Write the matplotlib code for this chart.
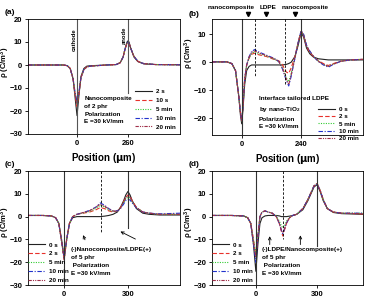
import matplotlib
matplotlib.use('Agg')
import matplotlib.pyplot as plt

plt.rcParams['font.family'] = ['Liberation Sans', 'DejaVu Sans']
plt.rcParams['font.weight'] = 'bold'
plt.rcParams['mathtext.default'] = 'regular'

# ---- data ----
# panel (a)
xa = [-250, -150, -100, -70, -50, -35, -20, -10, 0, 10, 20, 35, 50, 70, 100, 150,
      200, 220, 235, 245, 255, 260, 265, 275, 290, 310, 340, 400, 525]
ya_2s = [0, 0, 0, 0, -0.3, -1.5, -6, -14, -22, -13, -5, -1.5, -0.5, -0.3, -0.2, 0,
         0.2, 1, 3.5, 7, 10, 10.5, 10, 7, 3.5, 1.5, 0.5, 0.2, 0.1]
ya_10s = [0, 0, 0, 0, -0.3, -1.5, -6, -13, -18, -12.5, -5.5, -2, -0.8, -0.5, -0.3, 0,
          0.2, 1, 3.5, 7, 9.5, 10, 9.5, 7, 3.8, 1.6, 0.6, 0.2, 0.1]
ya_5m = [0, 0, 0, 0, -0.3, -1.5, -6, -12.5, -17, -12, -5.5, -2, -0.8, -0.5, -0.3, 0,
         0.2, 1, 3.5, 7.2, 9.8, 10.2, 9.6, 7, 3.8, 1.6, 0.6, 0.2, 0.1]
ya_10m = [0, 0, 0, 0, -0.3, -1.5, -6, -12, -16, -11.5, -5.5, -2, -0.8, -0.5, -0.3, 0,
          0.2, 1, 3.5, 7, 9.6, 10, 9.5, 7, 3.8, 1.6, 0.6, 0.2, 0.1]
ya_20m = [0, 0, 0, 0, -0.3, -1.5, -6, -12.5, -17, -12, -5.5, -2, -0.8, -0.5, -0.3, 0,
          0.2, 1, 3.5, 7, 9.5, 10, 9.5, 7, 3.8, 1.6, 0.6, 0.2, 0.1]

# panel (b)
xb = [-120, -60, -40, -25, -12, -5, 0, 5, 12, 20, 30, 40, 52, 70, 100, 130, 150, 165,
      180, 190, 200, 215, 228, 240, 250, 262, 275, 290, 310, 330, 350, 370, 400, 440, 490]
yb_0s = [0.1, 0.1, -0.5, -3, -12, -19, -22, -17, -8, -3, -1.5, -1, -1, -1, -1, -1, -1, -1,
         -0.8, -0.5, 0, 2, 6, 10.5, 9, 5, 3, 1.8, 1.2, 1, 0.8, 0.8, 0.8, 0.8, 0.8]
yb_2s = [0.1, 0.1, -0.5, -3, -12, -18, -21, -16, -6, -1, 1.5, 2.8, 3.2, 2.6, 2, 1, 0.5, -1,
         -3.5, -4, -2, 2, 7, 11, 9.5, 5.5, 3.5, 2, 0.5, -0.5, -1.2, -0.5, 0.3, 0.8, 1]
yb_5m = [0.1, 0.1, -0.5, -3, -12, -18, -21, -16, -6, -1, 1.5, 3, 3.8, 3, 2.2, 1.2, 0.2, -2,
         -5.5, -7, -4, 1.5, 7, 11, 9.8, 5.8, 3.8, 2, 0.3, -0.8, -1.5, -0.7, 0.3, 0.8, 1]
yb_10m = [0.1, 0.1, -0.5, -3, -12, -18, -21, -16, -6, -1, 2, 3.8, 4.5, 3.6, 2.5, 1.4, 0.2, -2.5,
          -6.5, -8.5, -5, 1.5, 7, 11.2, 10, 6, 4, 2, 0.2, -1, -1.8, -0.8, 0.3, 0.8, 1]
yb_20m = [0.1, 0.1, -0.5, -3, -12, -18, -21, -16, -6, -1, 1.8, 3.5, 4, 3.3, 2.3, 1.3, 0.2, -2.3,
          -6, -8, -4.5, 1.5, 7, 11, 9.8, 5.8, 3.8, 2, 0.3, -0.8, -1.5, -0.7, 0.3, 0.8, 1]

# panel (c)
xc = [-170, -100, -60, -40, -25, -12, 0, 12, 25, 40, 60, 90, 120, 150, 170, 190, 210, 230,
      250, 265, 280, 290, 300, 310, 320, 340, 370, 400, 450, 545]
yc_0s = [0.5, 0.5, 0.3, -0.5, -3, -10, -18, -10, -3, -0.5, 0, 0, 0, 0, 0, 0.2, 0.5, 1,
         2, 4, 7, 9.5, 11, 9.5, 7, 3.5, 1.5, 1, 0.7, 0.7]
yc_2s = [0.5, 0.5, 0.3, -0.5, -3, -11, -19, -10, -3, 0, 1, 1.5, 2, 3, 4, 3.5, 2.5, 2,
         2.5, 4, 6.5, 8.5, 9.5, 9, 7, 4, 2, 1.5, 1, 1]
yc_5m = [0.5, 0.5, 0.3, -0.5, -3, -11, -18.5, -10, -3, 0, 1, 1.6, 2.3, 3.6, 5, 4.2, 3, 2.3,
         2.5, 3.8, 6, 7.8, 8.5, 8.2, 6.5, 4, 2, 1.5, 1, 1]
yc_10m = [0.5, 0.5, 0.3, -0.5, -3, -11, -18, -10, -3, 0, 1, 1.8, 2.7, 4.2, 6, 5, 3.5, 2.5,
          2.5, 3.5, 5.5, 7, 7.5, 7.3, 6, 3.8, 2, 1.5, 1.2, 1.5]
yc_20m = [0.5, 0.5, 0.3, -0.5, -3, -11, -19, -10, -3, 0, 1, 1.8, 2.6, 4.2, 5.5, 4.6, 3.3, 2.4,
          2.5, 3.8, 6.5, 8.3, 9, 8.6, 6.8, 4, 2, 1.5, 1, 1]

# panel (d)
xd = [-215, -120, -60, -40, -25, -12, 0, 10, 20, 30, 45, 60, 80, 100, 115, 125, 132,
      140, 150, 165, 180, 200, 230, 255, 270, 285, 300, 315, 330, 350, 380, 420, 525]
yd_0s = [0.5, 0.5, 0.3, -0.5, -3, -12, -24, -12, -3, -0.5, 0.3, 0.5, 0.5, 0.5, 0.3, 0,
         0, 0, 0, 0.2, 0.5, 1, 3, 7, 10, 13, 14, 11, 7, 3.5, 1.8, 1.3, 1]
yd_2s = [0.5, 0.5, 0.3, -0.5, -3, -10, -17, -8, 0, 2, 2.5, 2, 1.5, 0, -3, -6.5,
         -8.5, -6, -3, -0.5, 0.5, 1, 3.5, 7.5, 10.5, 13.5, 14.5, 11.5, 7.5, 3.5, 2, 1.5, 1.2]
yd_5m = [0.5, 0.5, 0.3, -0.5, -3, -10, -16, -8, 0, 2, 2.5, 2, 1.5, 0.3, -2, -4,
         -5, -4, -2, -0.3, 0.5, 1, 3.5, 7.5, 10.5, 13.5, 14.5, 11.5, 7.5, 3.5, 2, 1.5, 1.5]
yd_10m = [0.5, 0.5, 0.3, -0.5, -3, -12, -20, -9, 0, 2, 2.5, 2, 1.5, 0, -3, -6,
          -7.5, -5.5, -2.8, -0.5, 0.5, 1, 3.5, 7.5, 10.5, 13.5, 14.2, 11.5, 7.5, 3.5, 2, 1.5, 1.5]
yd_20m = [0.5, 0.5, 0.3, -0.5, -3, -11, -18, -8.5, 0, 2, 2.5, 2, 1.5, 0, -3, -6,
          -7, -5.5, -2.8, -0.5, 0.5, 1, 3.5, 7.5, 10.5, 13.5, 14.5, 11.5, 7.5, 3.5, 2, 1.5, 1.3]

labels_a = ['2 s', '10 s', '5 min', '10 min', '20 min']
labels_bcd = ['0 s', '2 s', '5 min', '10 min', '20 min']

colors = ['#222222', '#e8312b', '#33cc33', '#2233cc', '#a0304a']
styles = ['-', (0, (4, 2)), (0, (1, 1.2)), (0, (4, 1.5, 1, 1.5)), (0, (3, 1, 1, 1, 1, 1))]

fig = plt.figure(figsize=(3.69, 3.04), dpi=100)
W, H = 369.0, 304.0


def make_ax(l, t, r, b):
    return fig.add_axes([l / W, 1 - b / H, (r - l) / W, (b - t) / H])


def style_ax(ax, xlim, ylim, xticks, yticks, ylab_y):
    ax.set_xlim(xlim)
    ax.set_ylim(ylim)
    ax.set_xticks(xticks)
    ax.set_yticks(yticks)
    ax.tick_params(labelsize=5.5, length=2, width=0.6, pad=2)
    for lab in ax.get_xticklabels() + ax.get_yticklabels():
        lab.set_fontweight('bold')
    for s in ax.spines.values():
        s.set_linewidth(0.6)
    ax.set_xlabel(r'Position ($\mathbf{\mu}$m)', fontsize=7, fontweight='bold', labelpad=3)
    ax.set_ylabel(r'$\rho$ (C/m$^3$)', fontsize=5.5, fontweight='bold')
    ax.yaxis.set_label_coords(-0.108, ylab_y)


def draw_curves(ax, x, ys, labels, loc, anchor, spacing):
    for y, lab, c, ls in zip(ys, labels, colors, styles):
        ax.plot(x, y, color=c, linestyle=ls, lw=0.8, label=lab)
    leg = ax.legend(loc=loc, bbox_to_anchor=anchor, frameon=False,
                    prop={'size': 4.5, 'weight': 'bold'}, handlelength=2.8,
                    labelspacing=spacing, borderpad=0.2, handletextpad=0.6)
    return leg


txt = dict(fontsize=4.6, fontweight='bold', va='top', ha='left', linespacing=1.7)

# ---- (a) ----
ax = make_ax(28, 19, 180, 134)
draw_curves(ax, xa, [ya_2s, ya_10s, ya_5m, ya_10m, ya_20m], labels_a,
            'lower right', (1.0, 0.0), 0.55)
ax.axvline(0, color='#555555', lw=0.8)
ax.plot([260, 260], [20, -12], color='#555555', lw=0.8)
ax.text(-12, 11, 'cathode', rotation=90, fontsize=4.2, ha='center', va='center')
ax.text(243, 13, 'anode', rotation=90, fontsize=4.2, ha='center', va='center')
ax.text(0.37, 0.33, 'Nanocomposite\nof 2 phr\nPolarization\nE =30 kV/mm',
        transform=ax.transAxes, **txt)
style_ax(ax, (-250, 525), (-30, 20), [0, 260], [-30, -20, -10, 0, 10, 20], 0.62)
fig.text(5 / W, 1 - 13 / H, '(a)', fontsize=6, fontweight='bold', va='center')

# ---- (b) ----
ax = make_ax(212, 19, 363, 135)
draw_curves(ax, xb, [yb_0s, yb_2s, yb_5m, yb_10m, yb_20m], labels_bcd,
            'lower right', (1.0, -0.09), 0.3)
ax.axvline(0, color='#333333', lw=0.8)
ax.axvline(240, color='#333333', lw=0.8)
ax.plot([52, 52], [15.4, -5], color='black', lw=0.6, ls=(0, (3, 2)))
ax.plot([175, 175], [15.4, -8], color='black', lw=0.6, ls=(0, (3, 2)))
for xm in [24, 100, 216]:
    ax.plot(xm, 1.04, marker='v', color='black', ms=3, transform=ax.get_xaxis_transform(),
            clip_on=False)
for xt, t in [(-44, 'nanocomposite'), (108, 'LDPE'), (258, 'nanocomposite')]:
    ax.text(xt, 1.10, t, fontsize=4.6, fontweight='bold', ha='center', va='center',
            transform=ax.get_xaxis_transform())
ax.text(0.31, 0.34, 'Interface tailored LDPE\nby nano-TiO$_2$\nPolarization\nE =30 kV/mm',
        transform=ax.transAxes, **txt)
style_ax(ax, (-120, 490), (-26, 15.4), [0, 240], [-20, -10, 0, 10], 0.7)
fig.text(189 / W, 1 - 15 / H, '(b)', fontsize=6, fontweight='bold', va='center')

# ---- (c) ----
ax = make_ax(28, 171, 180, 285)
draw_curves(ax, xc, [yc_0s, yc_2s, yc_5m, yc_10m, yc_20m], labels_bcd,
            'lower left', (-0.03, -0.02), 0.55)
ax.axvline(0, color='#333333', lw=0.8)
ax.plot([300, 300], [20, -5], color='#333333', lw=0.8)
ax.plot([172, 172], [20, -7], color='black', lw=0.6, ls=(0, (3, 2)))
arrow = dict(arrowstyle='->', color='black', lw=0.6, mutation_scale=5)
ax.annotate('', xy=(84, -7), xytext=(103, -11.3), arrowprops=arrow)
ax.annotate('', xy=(253, -6), xytext=(347, -10.4), arrowprops=arrow)
ax.text(0.28, 0.33, '(-)Nanocomposite/LDPE(+)\nof 5 phr\n Polarization\nE =30 kV/mm',
        transform=ax.transAxes, **txt)
style_ax(ax, (-170, 545), (-30, 20), [0, 300], [-30, -20, -10, 0, 10, 20], 0.55)
fig.text(5 / W, 1 - 164 / H, '(c)', fontsize=6, fontweight='bold', va='center')

# ---- (d) ----
ax = make_ax(212, 171, 363, 285)
draw_curves(ax, xd, [yd_0s, yd_2s, yd_5m, yd_10m, yd_20m], labels_bcd,
            'lower left', (-0.03, -0.02), 0.55)
ax.axvline(0, color='#333333', lw=0.8)
ax.plot([300, 300], [20, -13], color='#333333', lw=0.8)
ax.plot([131, 131], [20, -10], color='black', lw=0.6, ls=(0, (3, 2)))
ax.annotate('', xy=(68, -7.4), xytext=(68, -13.5), arrowprops=arrow)
ax.annotate('', xy=(218, -7), xytext=(218, -13.5), arrowprops=arrow)
ax.text(0.33, 0.33, '(-)LDPE/Nanocomposite(+)\nof 5 phr\n Polarization\nE =30 kV/mm',
        transform=ax.transAxes, **txt)
style_ax(ax, (-215, 525), (-30, 20), [0, 300], [-30, -20, -10, 0, 10, 20], 0.55)
fig.text(189 / W, 1 - 165 / H, '(d)', fontsize=6, fontweight='bold', va='center')

fig.savefig('out.png', dpi=100)
